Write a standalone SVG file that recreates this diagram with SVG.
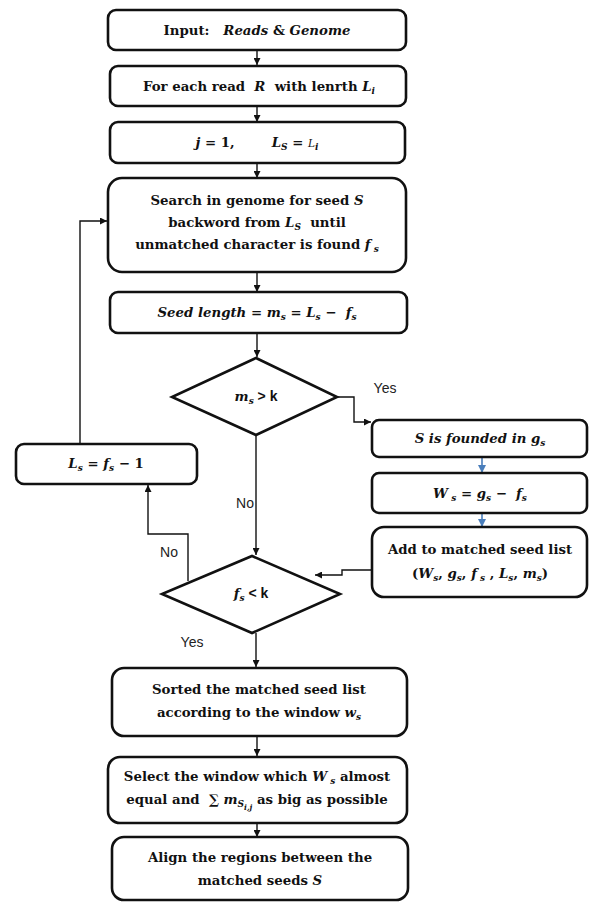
<svg xmlns="http://www.w3.org/2000/svg" width="589" height="903" viewBox="0 0 589 903">
<defs>
<marker id="ah" viewBox="0 0 10 10" refX="10" refY="5" markerWidth="7" markerHeight="7" markerUnits="userSpaceOnUse" orient="auto"><path d="M0,0 L10,5 L0,10 z" fill="#111"/></marker>
<marker id="ahb" viewBox="0 0 10 10" refX="10" refY="5" markerWidth="8" markerHeight="8" markerUnits="userSpaceOnUse" orient="auto"><path d="M0,0 L10,5 L0,10 z" fill="#4a7ebb"/></marker>
<style>
.box{fill:#fff;stroke:#111;stroke-width:2.6}
.con{fill:none;stroke:#111;stroke-width:1.4;marker-end:url(#ah)}
.conb{fill:none;stroke:#4a7ebb;stroke-width:1.6;marker-end:url(#ahb)}
.t{font-family:"DejaVu Serif","Liberation Serif",serif;font-weight:bold;font-size:13.3px;fill:#111;text-anchor:middle;white-space:pre}
.i{font-style:italic}
.sub{font-size:9px;font-style:italic}
.s{font-family:"Liberation Sans",Arial,sans-serif;font-weight:bold}
.lbl{font-family:"Liberation Sans",Arial,sans-serif;font-size:14px;fill:#222;text-anchor:middle}
</style>
</defs>
<g id="connectors">
<line class="con" x1="257" y1="50" x2="257" y2="65"/>
<line class="con" x1="257" y1="106" x2="257" y2="122"/>
<line class="con" x1="257" y1="163" x2="257" y2="178"/>
<line class="con" x1="257" y1="272" x2="257" y2="292"/>
<line class="con" x1="257" y1="333" x2="257" y2="357"/>
<line class="con" x1="256" y1="435" x2="256" y2="555"/>
<polyline class="con" points="337,397 354,397 354,422 371,422"/>
<line class="conb" x1="482" y1="457" x2="482" y2="473"/>
<line class="conb" x1="482" y1="513" x2="482" y2="527"/>
<polyline class="con" points="371,570 342,570 342,575 315,575"/>
<polyline class="con" points="188,581 188,534 148,534 148,485"/>
<polyline class="con" points="80,444 80,221 107,221"/>
<line class="con" x1="256" y1="633" x2="256" y2="667"/>
<line class="con" x1="257" y1="736" x2="257" y2="756"/>
<line class="con" x1="257" y1="823" x2="257" y2="837"/>
<text class="lbl" x="385" y="393">Yes</text>
<text class="lbl" x="245" y="508">No</text>
<text class="lbl" x="169" y="557">No</text>
<text class="lbl" x="192" y="647">Yes</text>
</g>
<g id="n1">
<rect class="box" x="108" y="10" width="298" height="40" rx="8"/>
<text class="t" x="257" y="35">Input:   <tspan class="i">Reads</tspan> &amp; <tspan class="i">Genome</tspan></text>
</g>
<g id="n2">
<rect class="box" x="110" y="66" width="296" height="40" rx="8"/>
<text class="t" x="259" y="91">For each read  <tspan class="i">R</tspan>  with lenrth <tspan class="i">L</tspan><tspan class="sub" dy="3">i</tspan></text>
</g>
<g id="n3">
<rect class="box" x="110" y="122" width="295" height="41" rx="8"/>
<text class="t" x="257" y="147"><tspan class="i">j</tspan> = 1,        <tspan class="i">L</tspan><tspan class="sub" dy="3">S</tspan><tspan dy="-3"> = </tspan><tspan class="i" font-size="10.5" font-weight="normal">L</tspan><tspan class="sub" dy="3">i</tspan></text>
</g>
<g id="n4">
<rect class="box" x="108" y="178" width="298" height="94" rx="14"/>
<text class="t" x="257" y="205">Search in genome for seed <tspan class="i">S</tspan></text>
<text class="t" x="257" y="227">backword from <tspan class="i">L</tspan><tspan class="sub" dy="3">S</tspan><tspan dy="-3">  until</tspan></text>
<text class="t" x="257" y="249">unmatched character is found <tspan class="i">f</tspan><tspan class="sub" dy="3"> s</tspan></text>
</g>
<g id="n5">
<rect class="box" x="110" y="292" width="297" height="41" rx="8"/>
<text class="t" x="257" y="317"><tspan class="i">Seed length</tspan> = <tspan class="i">m</tspan><tspan class="sub" dy="3">s</tspan><tspan dy="-3"> = </tspan><tspan class="i">L</tspan><tspan class="sub" dy="3">s</tspan><tspan dy="-3"> −  </tspan><tspan class="i">f</tspan><tspan class="sub" dy="3">s</tspan></text>
</g>
<g id="d1">
<polygon class="box" points="256,358 337,397 256,435 172,397"/>
<text class="t" x="256" y="401"><tspan class="i">m</tspan><tspan class="sub" dy="3">s</tspan><tspan class="s" dy="-3" font-size="14"> &gt; k</tspan></text>
</g>
<g id="n6">
<rect class="box" x="372" y="420" width="215" height="37" rx="7"/>
<text class="t i" x="480" y="443">S is founded in g<tspan class="sub" dy="3">s</tspan></text>
</g>
<g id="n7">
<rect class="box" x="372" y="473" width="215" height="40" rx="7"/>
<text class="t" x="480" y="498"><tspan class="i">W</tspan><tspan class="sub" dy="3"> s</tspan><tspan dy="-3"> = </tspan><tspan class="i">g</tspan><tspan class="sub" dy="3">s</tspan><tspan dy="-3"> −  </tspan><tspan class="i">f</tspan><tspan class="sub" dy="3">s</tspan></text>
</g>
<g id="n8">
<rect class="box" x="372" y="527" width="215" height="70" rx="12"/>
<text class="t" x="480" y="554">Add to matched seed list</text>
<text class="t" x="480" y="578">(<tspan class="i">W</tspan><tspan class="sub" dy="3">s</tspan><tspan dy="-3">, </tspan><tspan class="i">g</tspan><tspan class="sub" dy="3">s</tspan><tspan dy="-3">, </tspan><tspan class="i">f</tspan><tspan class="sub" dy="3"> s</tspan><tspan dy="-3"> , </tspan><tspan class="i">L</tspan><tspan class="sub" dy="3">s</tspan><tspan dy="-3">, </tspan><tspan class="i">m</tspan><tspan class="sub" dy="3">s</tspan><tspan dy="-3">)</tspan></text>
</g>
<g id="n9">
<rect class="box" x="16" y="444" width="181" height="40" rx="8"/>
<text class="t" x="106" y="468"><tspan class="i">L</tspan><tspan class="sub" dy="3">s</tspan><tspan dy="-3"> = </tspan><tspan class="i">f</tspan><tspan class="sub" dy="3">s</tspan><tspan dy="-3"> − 1</tspan></text>
</g>
<g id="d2">
<polygon class="box" points="252,556 340,594 252,633 162,594"/>
<text class="t" x="251" y="598"><tspan class="i">f</tspan><tspan class="sub" dy="3">s</tspan><tspan class="s" dy="-3" font-size="14"> &lt; k</tspan></text>
</g>
<g id="n10">
<rect class="box" x="112" y="668" width="295" height="68" rx="12"/>
<text class="t" x="259" y="694">Sorted the matched seed list</text>
<text class="t" x="259" y="717">according to the window <tspan class="i">w</tspan><tspan class="sub" dy="3">s</tspan></text>
</g>
<g id="n11">
<rect class="box" x="108" y="757" width="299" height="66" rx="12"/>
<text class="t" x="257" y="781">Select the window which <tspan class="i">W</tspan><tspan class="sub" dy="3"> s</tspan><tspan dy="-3"> almost</tspan></text>
<text class="t" x="257" y="804">equal and  ∑ <tspan class="i">m</tspan><tspan class="sub" dy="3">S</tspan><tspan font-size="7.5" font-style="italic" dy="3">i,j</tspan><tspan dy="-6"> as big as possible</tspan></text>
</g>
<g id="n12">
<rect class="box" x="112" y="837" width="296" height="63" rx="12"/>
<text class="t" x="260" y="862">Align the regions between the</text>
<text class="t" x="260" y="885">matched seeds <tspan class="i">S</tspan></text>
</g>
</svg>
